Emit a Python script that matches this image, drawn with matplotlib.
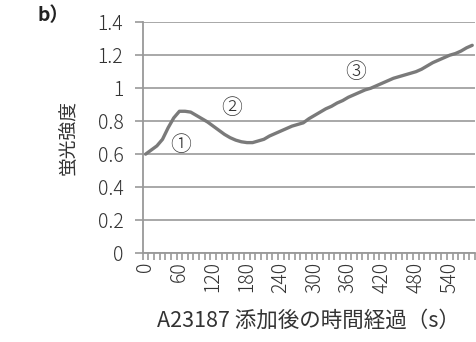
import matplotlib.pyplot as plt
import numpy as np

plt.rcParams['font.family'] = ['Noto Sans CJK JP', 'DejaVu Sans']
plt.rcParams['font.weight'] = 'light'

# fluorescence intensity sampled every 10 s after A23187 addition
times = list(range(0, 590, 10))
intensity = [
    0.60, 0.625, 0.65, 0.69, 0.76, 0.82, 0.86, 0.86, 0.855, 0.835,
    0.815, 0.795, 0.77, 0.745, 0.72, 0.70, 0.685, 0.675, 0.67, 0.67,
    0.68, 0.69, 0.71, 0.725, 0.74, 0.755, 0.77, 0.78, 0.79, 0.815,
    0.835, 0.855, 0.875, 0.89, 0.91, 0.925, 0.945, 0.96, 0.975, 0.99,
    1.00, 1.015, 1.03, 1.045, 1.06, 1.07, 1.08, 1.09, 1.10, 1.115,
    1.135, 1.155, 1.17, 1.185, 1.20, 1.21, 1.225, 1.245, 1.26,
]
yticks = [0, 0.2, 0.4, 0.6, 0.8, 1.0, 1.2, 1.4]
ytick_labels = ['0', '0.2', '0.4', '0.6', '0.8', '1', '1.2', '1.4']
label_every = 6
phases = ['①', '②', '③']
phase_pos = [(6.3, 0.655), (15.3, 0.88), (37.3, 1.097)]

grey = '#999999'
text_c = '#333333'

fig = plt.figure(figsize=(4.76, 3.42), dpi=100)
ax = fig.add_axes([0.300, 0.260, 0.698, 0.675])

x = np.arange(len(times))
ax.plot(x, intensity, color='#7a7a7a', lw=2.4, solid_capstyle='round', zorder=3)

ax.set_xlim(-0.5, len(times) - 0.5)
ax.set_ylim(0, 1.4)
ax.set_yticks(yticks)
ax.set_yticklabels(ytick_labels)
ax.yaxis.grid(True, color=grey, lw=1.2)
ax.set_axisbelow(True)

# category ticks sit between points, labels every 60 s
ax.set_xticks(x[::label_every])
ax.set_xticklabels([str(t) for t in times[::label_every]], rotation=90)
ax.tick_params(axis='x', length=0, pad=6, labelsize=14, colors=text_c)
ax.set_xticks(np.arange(-0.5, len(times), 1), minor=True)
ax.tick_params(axis='x', which='minor', length=5, width=1.2, color=grey)
ax.tick_params(axis='y', length=6, width=1.2, color=grey, pad=8,
               labelsize=14, labelcolor=text_c)

for s in ['top', 'right']:
    ax.spines[s].set_visible(False)
for s in ['left', 'bottom']:
    ax.spines[s].set_color(grey)
    ax.spines[s].set_linewidth(1.3)

for lab, (px, py) in zip(phases, phase_pos):
    ax.text(px, py, lab, fontsize=15, ha='center', va='center', color=text_c)

ax.set_ylabel('蛍光強度', fontsize=13.5, color=text_c, labelpad=14)
ax.set_xlabel('A23187 添加後の時間経過（s）', fontsize=15.5, color=text_c, labelpad=12)

fig.text(0.078, 0.955, 'b）', fontsize=14, fontweight='bold', color='#222222',
         ha='left', va='center')

fig.savefig('out.png', dpi=100)
